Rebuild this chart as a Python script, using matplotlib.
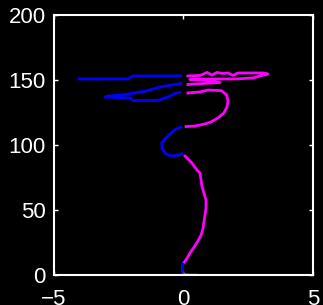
import numpy as np
import matplotlib
matplotlib.use('Agg')
import matplotlib.pyplot as plt

# --- Data: trajectory (x position, y step)

x = [0.48, 0.25, 0.06, -0.04, -0.04, -0.02,
     0.04, 0.14, 0.25, 0.41, 0.56, 0.68, 0.75, 0.79, 0.83, 0.87, 0.87, 0.79,
     0.71, 0.68, 0.64, 0.52, 0.41, 0.29, 0.14, 0.06,
     -0.06, -0.21, -0.44, -0.68, -0.83, -0.84, -0.75, -0.60, -0.44, -0.29, -0.10,
     0.10, 0.44, 0.83, 1.06, 1.33, 1.56, 1.68, 1.72, 1.67, 1.47, 0.95, 0.64, 0.17,
     -0.14, -0.29, -0.60, -1.02, -1.95, -2.07, -3.03, -2.84, -2.26, -1.45, -0.91, -0.10,
     0.17, 0.91, 1.41, 0.83, 0.25, 0.95, 1.99, 2.68, 2.95, 3.26, 3.07, 2.37, 2.10,
     1.91, 1.72, 1.49, 1.29, 1.10, 0.91, 0.64, 0.17,
     -0.10, -1.95, -2.14, -4.03]
y = [0.0, 0.0, 0.4, 0.8, 6.9, 9.2,
     10.0, 13.1, 16.9, 21.5, 26.2, 30.8, 35.4, 40.8, 46.2, 51.5, 57.7, 63.1,
     68.5, 73.1, 78.5, 80.8, 83.8, 86.9, 90.0, 91.5,
     93.1, 92.3, 91.5, 93.1, 96.9, 101.5, 103.8, 106.9, 110.0, 112.3, 113.8,
     114.2, 114.6, 116.2, 117.7, 120.8, 124.6, 129.2, 133.8, 138.5, 141.8, 142.3, 140.8, 140.0,
     140.4, 140.0, 136.9, 134.2, 134.2, 136.2, 136.9, 137.7, 138.8, 141.5, 144.6, 147.3,
     146.5, 147.5, 148.1, 150.0, 150.4, 150.8, 150.8, 151.5, 153.1, 154.6, 155.4, 155.4, 155.4,
     153.5, 155.4, 155.0, 155.8, 153.8, 155.8, 153.5, 153.1,
     153.1, 153.1, 150.8, 150.8]

x = np.array(x)
y = np.array(y)

# split by sign: negative side blue, positive side magenta
x_neg = np.where(x < 0, x, np.nan)
x_pos = np.where(x >= 0, x, np.nan)

# --- Plotting

plt.rcParams['font.family'] = ['Liberation Sans', 'DejaVu Sans']

fig = plt.figure(figsize=(3.23, 3.05), dpi=100, facecolor='black')
ax = fig.add_axes([0.167, 0.098, 0.802, 0.853], facecolor='black')

ax.plot(x_neg, y, color='blue', lw=2)
ax.plot(x_pos, y, color='magenta', lw=2)

ax.set_xlim(-5, 5)
ax.set_ylim(0, 200)
ax.set_xticks([-5, 0, 5])
ax.set_yticks([0, 50, 100, 150, 200])

for s in ax.spines.values():
    s.set_color('white')
    s.set_linewidth(1.5)

ax.tick_params(colors='white', direction='in', length=3, width=1,
               top=True, right=True, labelsize=16)
ax.tick_params(axis='x', pad=10)
ax.tick_params(axis='y', pad=6)

fig.savefig('out.png', dpi=100, facecolor='black')
